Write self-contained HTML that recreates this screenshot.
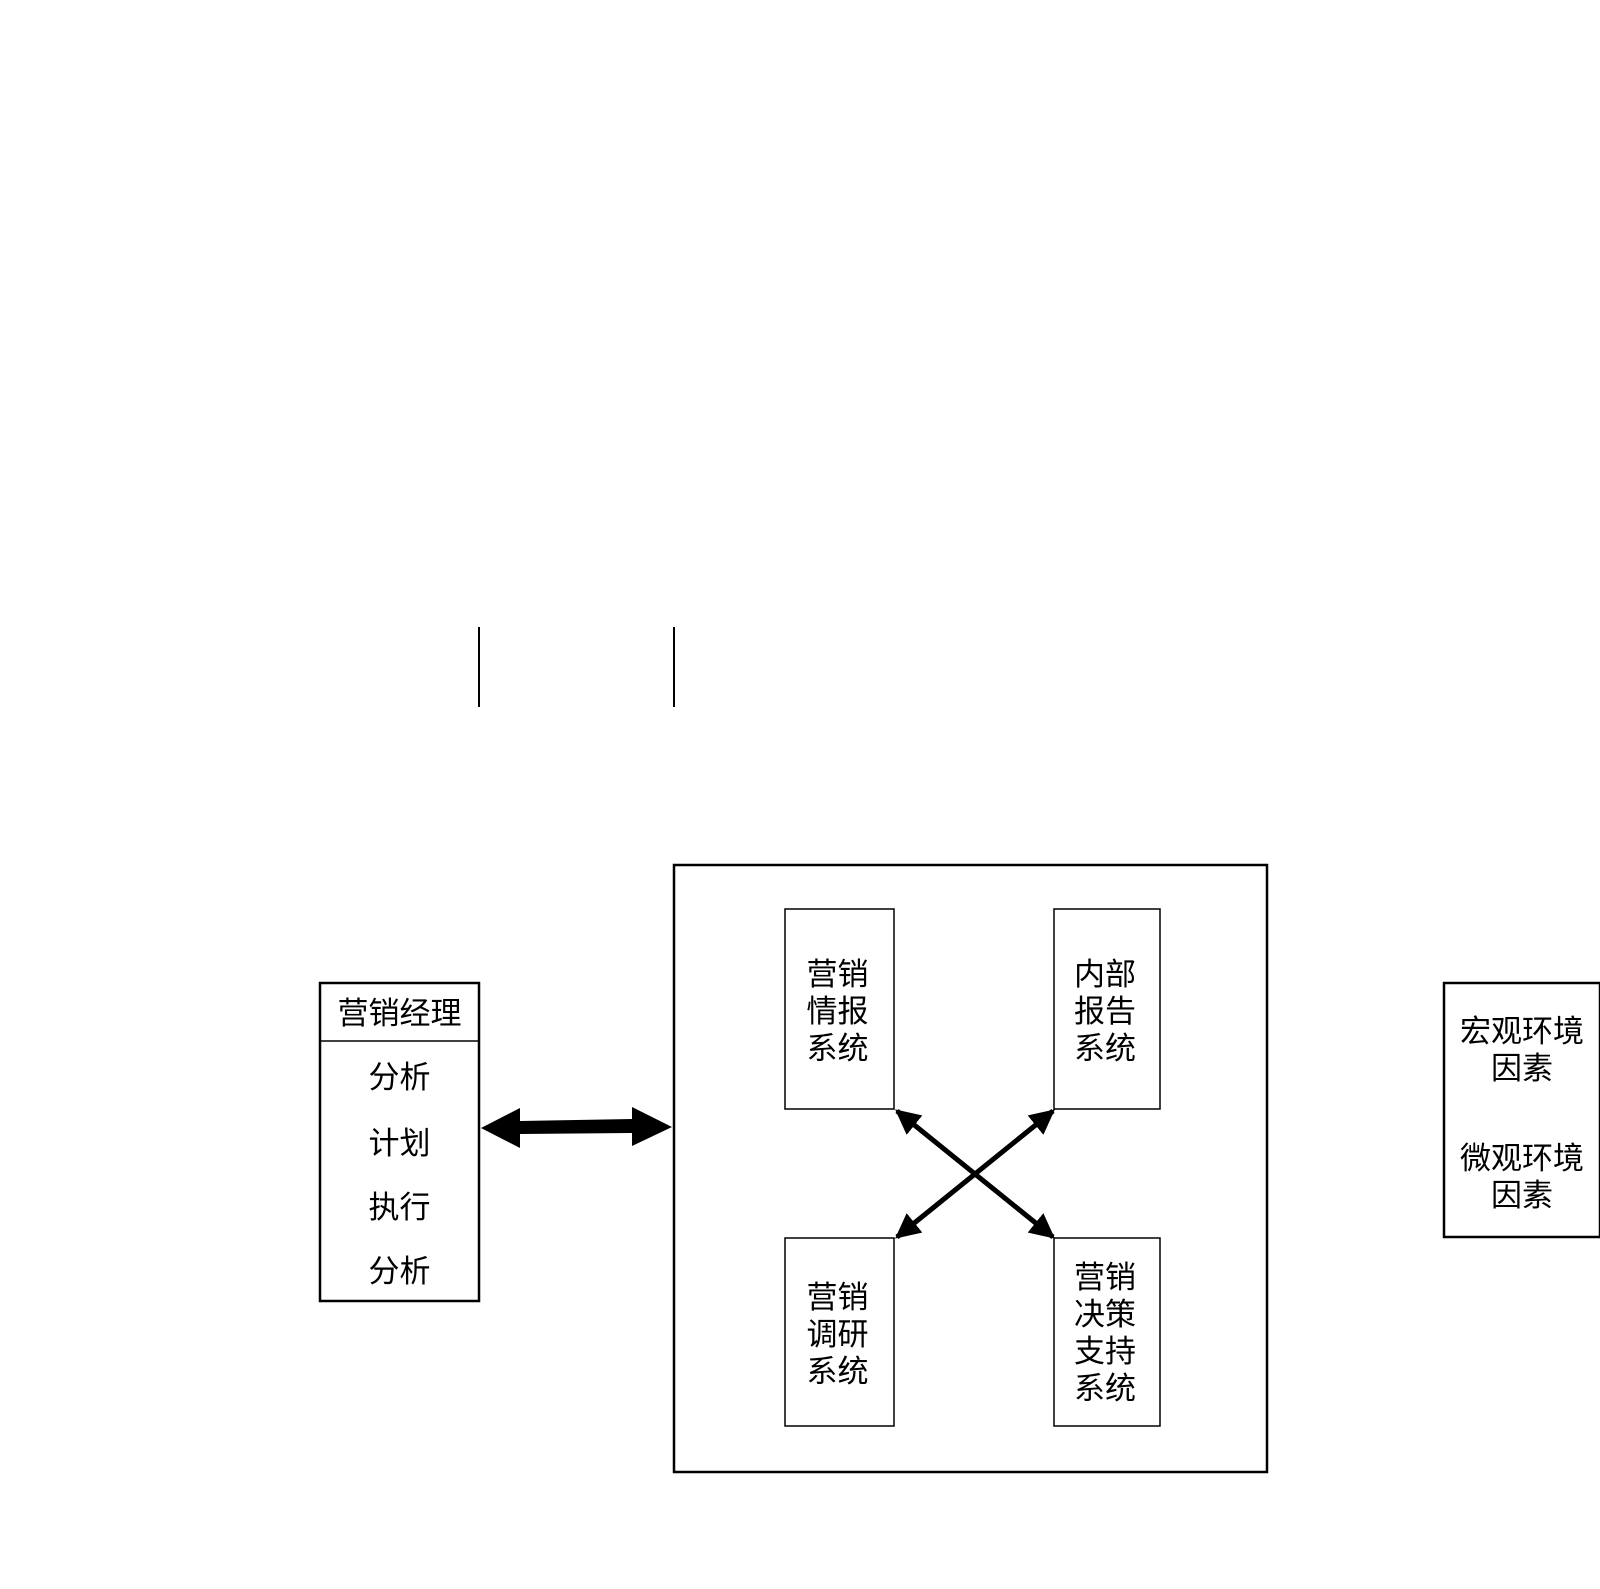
<!DOCTYPE html>
<html><head><meta charset="utf-8"><style>
html,body{margin:0;padding:0;background:#fff;}
body{width:1600px;height:1589px;position:relative;overflow:hidden;font-family:"Liberation Sans","Noto Sans CJK SC",sans-serif;}
.t{position:absolute;font-size:31px;line-height:37px;text-align:center;color:#000;white-space:nowrap;}
</style></head><body>
<svg width="1600" height="1589" style="position:absolute;left:0;top:0">
<defs>
<marker id="a" viewBox="0 0 10 10" refX="9" refY="5" markerWidth="5" markerHeight="5" orient="auto-start-reverse"><path d="M0,0L10,5L0,10z" fill="#000"/></marker>
</defs>
<line x1="479" y1="627" x2="479" y2="707" stroke="#000" stroke-width="2"/>
<line x1="674" y1="627" x2="674" y2="707" stroke="#000" stroke-width="2"/>
<rect x="320" y="983" width="159" height="318" fill="none" stroke="#000" stroke-width="2.5"/>
<line x1="320" y1="1041" x2="479" y2="1041" stroke="#000" stroke-width="1.5"/>
<rect x="674" y="865" width="593" height="607" fill="none" stroke="#000" stroke-width="2.5"/>
<rect x="785" y="909" width="109" height="200" fill="none" stroke="#000" stroke-width="1.5"/>
<rect x="1054" y="909" width="106" height="200" fill="none" stroke="#000" stroke-width="1.5"/>
<rect x="785" y="1238" width="109" height="188" fill="none" stroke="#000" stroke-width="1.5"/>
<rect x="1054" y="1238" width="106" height="188" fill="none" stroke="#000" stroke-width="1.5"/>
<rect x="1444" y="983" width="156" height="254" fill="none" stroke="#000" stroke-width="2.5"/>
<path d="M481,1128 L520,1108 L520,1121 L632,1119 L632,1107 L672,1127 L632,1146 L632,1133 L520,1134 L520,1148 Z" fill="#000"/>
<line x1="897" y1="1111" x2="1053" y2="1237" stroke="#000" stroke-width="5" marker-start="url(#a)" marker-end="url(#a)"/>
<line x1="1053" y1="1111" x2="897" y2="1237" stroke="#000" stroke-width="5" marker-start="url(#a)" marker-end="url(#a)"/>
</svg>
<div class="t" style="left:320px;width:159px;top:995px">营销经理</div>
<div class="t" style="left:320px;width:159px;top:1059px">分析</div>
<div class="t" style="left:320px;width:159px;top:1125px">计划</div>
<div class="t" style="left:320px;width:159px;top:1189px">执行</div>
<div class="t" style="left:320px;width:159px;top:1253px">分析</div>
<div class="t" style="left:783px;width:109px;top:956px">营销<br>情报<br>系统</div>
<div class="t" style="left:1052px;width:106px;top:956px">内部<br>报告<br>系统</div>
<div class="t" style="left:783px;width:109px;top:1279px">营销<br>调研<br>系统</div>
<div class="t" style="left:1052px;width:106px;top:1259px">营销<br>决策<br>支持<br>系统</div>
<div class="t" style="left:1444px;width:156px;top:1013px">宏观环境<br>因素</div>
<div class="t" style="left:1444px;width:156px;top:1140px">微观环境<br>因素</div>
</body></html>
